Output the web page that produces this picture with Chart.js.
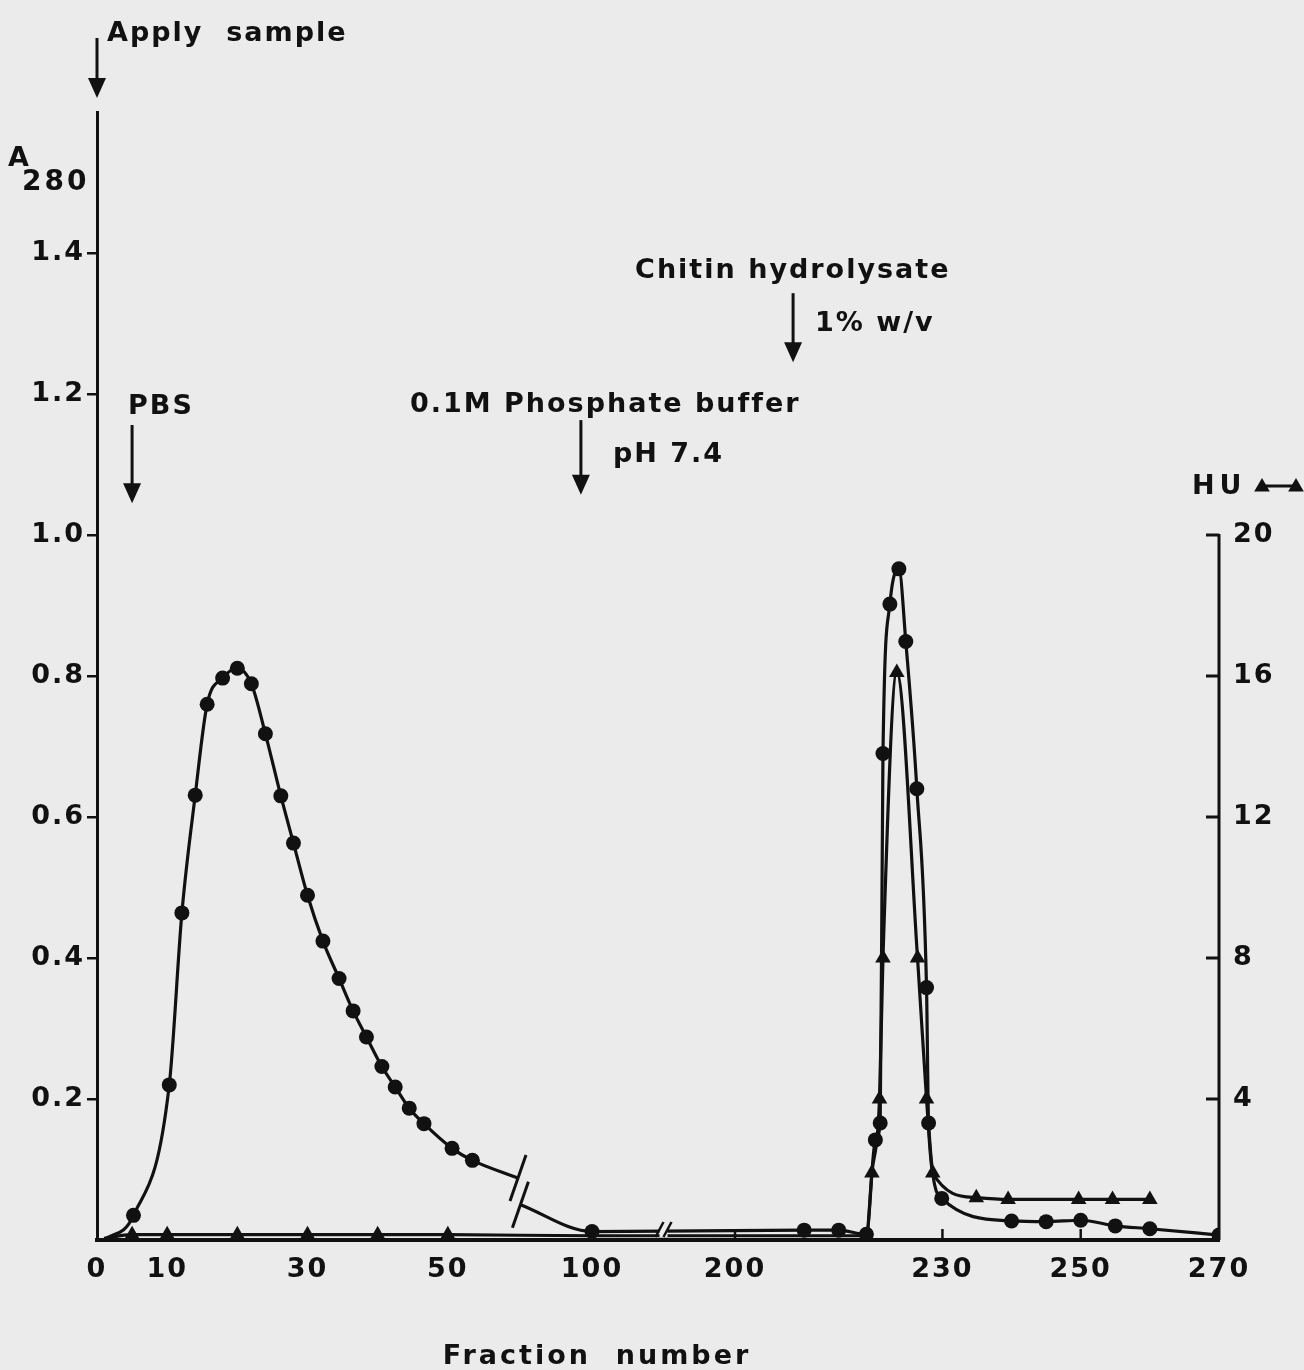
<!DOCTYPE html>
<html>
<head>
<meta charset="utf-8">
<title>A280 / HU elution profile</title>
<script src="https://cdn.jsdelivr.net/npm/chart.js@4.4.1/dist/chart.umd.min.js"></script>
<style>
  html, body { margin: 0; padding: 0; background: #ebebeb; }
  #wrap { width: 1304px; height: 1370px; }
</style>
</head>
<body>
<div id="wrap"><canvas id="chart" width="1304" height="1370"></canvas></div>
<script>
// A280 readings (circles). null = the broken-axis gap, dot 0 = curve point without marker
const a280Fraction = [1, 5.2, 10.3, 12.1, 14, 15.7, 17.9, 20, 22, 24, 26.2, 28, 30, 32.2, 34.5, 36.5,
  38.4, 40.6, 42.5, 44.5, 46.6, 50.6, 53.5, 60, 60.6, 61.3, 100, 210, 215, 219, 220.3, 221, 221.4,
  222.4, 223.7, 224.7, 226.3, 227.7, 228, 229.9, 240, 245, 250, 255, 260, 270];
const a280Value = [0, 0.035, 0.22, 0.464, 0.631, 0.76, 0.797, 0.811, 0.789, 0.718, 0.63, 0.563, 0.489,
  0.424, 0.371, 0.325, 0.288, 0.246, 0.217, 0.187, 0.165, 0.13, 0.113, 0.088, null, 0.05, 0.012,
  0.014, 0.014, 0.008, 0.142, 0.166, 0.69, 0.902, 0.952, 0.849, 0.64, 0.358, 0.166, 0.059, 0.027,
  0.026, 0.028, 0.02, 0.016, 0.007];
const a280Dot = [0, 1, 1, 1, 1, 1, 1, 1, 1, 1, 1, 1, 1, 1, 1, 1, 1, 1, 1, 1, 1, 1, 1, 0, 0, 0, 1,
  1, 1, 1, 1, 1, 1, 1, 1, 1, 1, 1, 1, 1, 1, 1, 1, 1, 1, 1];

// haemagglutination units (triangles)
const huFraction = [1, 5, 10, 20, 30, 40, 50, 100, 200, 219, 219.8, 220.9, 221.4, 223.4, 226.4,
  227.7, 228.6, 234.9, 239.5, 249.7, 254.6, 260];
const huValue = [0.05, 0.15, 0.15, 0.15, 0.15, 0.15, 0.15, 0.12, 0.12, 0.12, 1.9, 4, 8, 16.1, 8,
  4, 1.9, 1.2, 1.15, 1.15, 1.15, 1.15];
const huDot = [0, 1, 1, 1, 1, 1, 1, 0, 0, 0, 1, 1, 1, 1, 1, 1, 1, 1, 1, 1, 1, 1];

const xTickFractions = [0, 10, 30, 50, 100, 200, 230, 250, 270];
const innerTickFractions = [200, 230, 250];
const a280Ticks = [0.2, 0.4, 0.6, 0.8, 1.0, 1.2, 1.4];
const huTicks = [4, 8, 12, 16, 20];

// broken x axis: fraction -> position along the axis
const axisKnots = [[0, 0], [60, 421], [100, 495], [200, 638], [270, 1122]];
function toAxis(f) {
  for (let i = 1; i < axisKnots.length; i++) {
    const [f0, u0] = axisKnots[i - 1];
    const [f1, u1] = axisKnots[i];
    if (f <= f1 || i === axisKnots.length - 1) {
      return u0 + (f - f0) * (u1 - u0) / (f1 - f0);
    }
  }
}

const ink = '#111';
const paper = '#ebebeb';
const textFont = 'bold 27px "DejaVu Sans"';

// arrows: fraction, top and tip in A280 units, texts offset in pixels from arrow
const arrows = [
  { frac: 0, top: 1.705, tip: 1.62, texts: [['Apply  sample', 10, 3]] },
  { frac: 5, top: 1.156, tip: 1.045, texts: [['PBS', -4, -11]] },
  { frac: 94, top: 1.163, tip: 1.057, texts: [['0.1M Phosphate buffer', -171, -8], ['pH 7.4', 32, 42]] },
  { frac: 208.4, top: 1.343, tip: 1.245, texts: [['Chitin hydrolysate', -158, -15], ['1% w/v', 22, 38]] }
];

function points(fr, vals) {
  return fr.map((f, i) => ({ x: toAxis(f), y: vals[i] }));
}

function triangle(ctx, x, y, r) {
  ctx.beginPath();
  ctx.moveTo(x, y - r);
  ctx.lineTo(x + r * 0.87, y + r / 2);
  ctx.lineTo(x - r * 0.87, y + r / 2);
  ctx.closePath();
  ctx.fill();
}

const figurePlugin = {
  id: 'figure',
  beforeLayout(chart) {
    chart.ctx.letterSpacing = '2px';
  },
  beforeDraw(chart) {
    const ctx = chart.ctx;
    ctx.save();
    ctx.fillStyle = paper;
    ctx.fillRect(0, 0, chart.width, chart.height);
    ctx.restore();
    ctx.letterSpacing = '2px';
  },
  afterDatasetsDraw(chart) {
    const ctx = chart.ctx;
    const xs = chart.scales.x, ys = chart.scales.y;
    ctx.save();
    ctx.strokeStyle = ink;
    ctx.lineWidth = 3;
    // break on the A280 curve
    const gap = a280Value.indexOf(null);
    const meta = chart.getDatasetMeta(0).data;
    [meta[gap - 1], meta[gap + 1]].forEach(p => {
      ctx.beginPath();
      ctx.moveTo(p.x + 8, p.y - 23);
      ctx.lineTo(p.x - 8, p.y + 23);
      ctx.stroke();
    });
    // break on the baseline between 100 and 200
    const bx = xs.getPixelForValue(toAxis(150));
    const by = ys.getPixelForValue(0);
    ctx.fillStyle = paper;
    ctx.fillRect(bx - 4, by - 16, 8, 13);
    ctx.lineWidth = 2.5;
    [-4, 4].forEach(d => {
      ctx.beginPath();
      ctx.moveTo(bx + d + 4, by - 18);
      ctx.lineTo(bx + d - 4, by - 3);
      ctx.stroke();
    });
    ctx.restore();
  },
  afterDraw(chart) {
    const ctx = chart.ctx;
    const xs = chart.scales.x, ys = chart.scales.y, hs = chart.scales.hu;
    const area = chart.chartArea;
    ctx.save();
    ctx.strokeStyle = ink;
    ctx.fillStyle = ink;
    ctx.lineWidth = 3;
    ctx.letterSpacing = '2px';

    // right HU axis, only up to 20, ticks pointing inward
    const rx = area.right;
    ctx.beginPath();
    ctx.moveTo(rx, hs.getPixelForValue(0));
    ctx.lineTo(rx, hs.getPixelForValue(20) - 1);
    ctx.stroke();
    huTicks.forEach(v => {
      const y = hs.getPixelForValue(v);
      ctx.beginPath();
      ctx.moveTo(rx - 13, y);
      ctx.lineTo(rx, y);
      ctx.stroke();
    });

    // small inward ticks on the x axis
    ctx.lineWidth = 2.5;
    innerTickFractions.forEach(f => {
      const x = xs.getPixelForValue(toAxis(f));
      ctx.beginPath();
      ctx.moveTo(x, area.bottom);
      ctx.lineTo(x, area.bottom - 11);
      ctx.stroke();
    });

    // arrows and their labels
    ctx.font = textFont;
    ctx.textBaseline = 'alphabetic';
    ctx.textAlign = 'left';
    arrows.forEach(a => {
      const x = xs.getPixelForValue(toAxis(a.frac));
      const top = ys.getPixelForValue(a.top);
      const tip = ys.getPixelForValue(a.tip);
      ctx.lineWidth = 3;
      ctx.beginPath();
      ctx.moveTo(x, top);
      ctx.lineTo(x, tip - 12);
      ctx.stroke();
      ctx.beginPath();
      ctx.moveTo(x - 9, tip - 20);
      ctx.lineTo(x + 9, tip - 20);
      ctx.lineTo(x, tip);
      ctx.closePath();
      ctx.fill();
      a.texts.forEach(([t, dx, dy]) => ctx.fillText(t, x + dx, top + dy));
    });

    // x axis name
    ctx.textAlign = 'center';
    ctx.letterSpacing = '3px';
    ctx.fillText('Fraction  number', 597, 1364);

    // y axis names
    ctx.textAlign = 'left';
    ctx.letterSpacing = '1px';
    ctx.font = 'bold 27px "DejaVu Sans"';
    ctx.fillText('A', 8, 166);
    ctx.letterSpacing = '3px';
    ctx.font = 'bold 28px "DejaVu Sans"';
    ctx.fillText('280', 22, 190);
    ctx.letterSpacing = '5px';
    ctx.font = textFont;
    ctx.fillText('HU', 1192, 494);
    ctx.lineWidth = 3;
    ctx.beginPath();
    ctx.moveTo(1262, 486);
    ctx.lineTo(1296, 486);
    ctx.stroke();
    triangle(ctx, 1262, 487, 9);
    triangle(ctx, 1296, 487, 9);
    ctx.restore();
  }
};

Chart.defaults.font.family = '"DejaVu Sans"';
Chart.defaults.font.size = 27;
Chart.defaults.font.weight = 'bold';
Chart.defaults.color = ink;

new Chart(document.getElementById('chart'), {
  type: 'line',
  data: {
    datasets: [
      {
        label: 'A280',
        data: points(a280Fraction, a280Value),
        yAxisID: 'y',
        borderColor: ink,
        borderWidth: 3.2,
        backgroundColor: ink,
        cubicInterpolationMode: 'monotone',
        spanGaps: false,
        pointStyle: 'circle',
        pointRadius: c => a280Dot[c.dataIndex] ? 7.5 : 0,
        pointBorderWidth: 0
      },
      {
        label: 'HU',
        data: points(huFraction, huValue),
        yAxisID: 'hu',
        borderColor: ink,
        borderWidth: 3.2,
        backgroundColor: ink,
        cubicInterpolationMode: 'monotone',
        pointStyle: 'triangle',
        pointRadius: c => huDot[c.dataIndex] ? 9 : 0,
        pointBorderWidth: 0
      }
    ]
  },
  options: {
    responsive: false,
    animation: false,
    devicePixelRatio: 1,
    layout: { padding: { top: 112, left: 0, right: 0, bottom: 0 } },
    plugins: { legend: { display: false }, tooltip: { enabled: false } },
    elements: { line: { tension: 0.4 } },
    scales: {
      x: {
        type: 'linear',
        min: 0,
        max: toAxis(270),
        grid: { display: false, drawTicks: false },
        border: { display: true, color: ink, width: 4 },
        afterBuildTicks: s => { s.ticks = xTickFractions.map(f => ({ value: toAxis(f) })); },
        afterFit: s => { s.height = 130; },
        ticks: {
          autoSkip: false,
          maxRotation: 0,
          padding: 14,
          callback: (v, i) => String(xTickFractions[i])
        }
      },
      y: {
        position: 'left',
        min: 0,
        max: 1.6,
        grid: { display: true, drawOnChartArea: false, drawTicks: true, tickLength: 10, color: ink, lineWidth: 2.5 },
        border: { display: true, color: ink, width: 3 },
        afterBuildTicks: s => { s.ticks = a280Ticks.map(v => ({ value: v })); },
        afterFit: s => { s.width = 97; },
        ticks: { padding: 2, callback: v => v.toFixed(1) }
      },
      hu: {
        position: 'right',
        min: 0,
        max: 32,
        grid: { display: false, drawTicks: false },
        border: { display: false },
        afterBuildTicks: s => { s.ticks = huTicks.map(v => ({ value: v })); },
        afterFit: s => { s.width = 85; },
        ticks: { padding: 14, callback: v => String(v) }
      }
    }
  },
  plugins: [figurePlugin]
});
</script>
</body>
</html>
